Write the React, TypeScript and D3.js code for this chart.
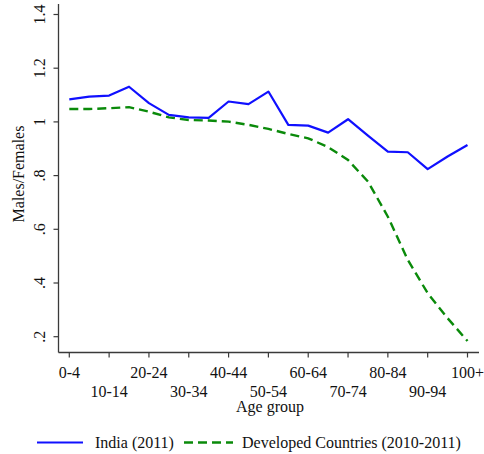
import React, { useEffect, useRef } from "react";
import * as d3 from "d3";

// Age groups (5-year bands)
const ageGroups = [
  "0-4", "5-9", "10-14", "15-19", "20-24", "25-29", "30-34", "35-39",
  "40-44", "45-49", "50-54", "55-59", "60-64", "65-69", "70-74", "75-79",
  "80-84", "85-89", "90-94", "95-99", "100+",
];

// Sex ratio (males per female) by age group
const india2011 = [
  1.084, 1.094, 1.098, 1.131, 1.07, 1.026, 1.017, 1.015, 1.076, 1.066,
  1.113, 0.989, 0.986, 0.96, 1.01, 0.949, 0.889, 0.887, 0.824, 0.871, 0.914,
];
const developed2010 = [
  1.048, 1.048, 1.051, 1.055, 1.038, 1.017, 1.007, 1.005, 1.001, 0.989,
  0.974, 0.955, 0.939, 0.906, 0.858, 0.778, 0.647, 0.486, 0.362, 0.269, 0.184,
];

const yTicks = [0.2, 0.4, 0.6, 0.8, 1.0, 1.2, 1.4];
const yTickLabels = [".2", ".4", ".6", ".8", "1", "1.2", "1.4"];

const seriesNames = ["India (2011)", "Developed Countries (2010-2011)"];

const W = 484;
const H = 454;
const FONT = "'Liberation Serif', 'Times New Roman', serif";
const AXIS = "#3a3a3a";

export default function App() {
  const ref = useRef<SVGSVGElement | null>(null);

  useEffect(() => {
    const svg = d3.select(ref.current);
    svg.selectAll("*").remove();

    const axisX = 58.5;
    const axisY = 352.5;

    const x = d3.scalePoint<string>().domain(ageGroups).range([69.3, 467.5]);
    const y = d3.scaleLinear().domain([0.2, 1.4]).range([336.7, 14.5]);

    const g = svg.append("g");

    // axis lines
    g.append("line")
      .attr("x1", axisX).attr("x2", axisX)
      .attr("y1", 4).attr("y2", axisY)
      .attr("stroke", AXIS).attr("stroke-width", 1.3);
    g.append("line")
      .attr("x1", axisX).attr("x2", 479)
      .attr("y1", axisY).attr("y2", axisY)
      .attr("stroke", AXIS).attr("stroke-width", 1.3);

    // y ticks + rotated labels
    yTicks.forEach((t, i) => {
      const yy = y(t);
      g.append("line")
        .attr("x1", axisX - 5).attr("x2", axisX)
        .attr("y1", yy).attr("y2", yy)
        .attr("stroke", AXIS).attr("stroke-width", 1.2);
      g.append("text")
        .attr("transform", `translate(45,${yy}) rotate(-90)`)
        .attr("text-anchor", "middle")
        .attr("font-family", FONT)
        .attr("font-size", 16)
        .attr("fill", "#111")
        .text(yTickLabels[i]);
    });

    // x ticks every second age group, labels on alternating rows
    ageGroups.forEach((a, i) => {
      if (i % 2 !== 0) return;
      const xx = x(a)!;
      g.append("line")
        .attr("x1", xx).attr("x2", xx)
        .attr("y1", axisY).attr("y2", axisY + 5)
        .attr("stroke", AXIS).attr("stroke-width", 1.2);
      const row = (i / 2) % 2;
      g.append("text")
        .attr("x", xx)
        .attr("y", row === 0 ? 378 : 396.5)
        .attr("text-anchor", "middle")
        .attr("font-family", FONT)
        .attr("font-size", 16)
        .attr("fill", "#111")
        .text(a);
    });

    // axis titles
    g.append("text")
      .attr("x", 270).attr("y", 412)
      .attr("text-anchor", "middle")
      .attr("font-family", FONT).attr("font-size", 16).attr("fill", "#111")
      .text("Age group");
    g.append("text")
      .attr("transform", `translate(24,174) rotate(-90)`)
      .attr("text-anchor", "middle")
      .attr("font-family", FONT).attr("font-size", 16).attr("fill", "#111")
      .text("Males/Females");

    const line = d3.line<number>()
      .x((_, i) => x(ageGroups[i])!)
      .y((d) => y(d));

    g.append("path")
      .datum(developed2010)
      .attr("d", line)
      .attr("fill", "none")
      .attr("stroke", "#0a8a0a")
      .attr("stroke-width", 2.4)
      .attr("stroke-dasharray", "9,5");

    g.append("path")
      .datum(india2011)
      .attr("d", line)
      .attr("fill", "none")
      .attr("stroke", "#1010ff")
      .attr("stroke-width", 2.2)
      .attr("stroke-linejoin", "round");

    // legend
    const ly = 442.5;
    g.append("line")
      .attr("x1", 37).attr("x2", 83).attr("y1", ly).attr("y2", ly)
      .attr("stroke", "#1010ff").attr("stroke-width", 2.2);
    g.append("text")
      .attr("x", 95).attr("y", 448)
      .attr("font-family", FONT).attr("font-size", 16).attr("fill", "#111")
      .text(seriesNames[0]);
    g.append("line")
      .attr("x1", 184).attr("x2", 233).attr("y1", ly).attr("y2", ly)
      .attr("stroke", "#0a8a0a").attr("stroke-width", 2.4)
      .attr("stroke-dasharray", "9,5");
    g.append("text")
      .attr("x", 242).attr("y", 448)
      .attr("font-family", FONT).attr("font-size", 16).attr("fill", "#111")
      .text(seriesNames[1]);
  }, []);

  return (
    <svg
      ref={ref}
      width={W}
      height={H}
      style={{ position: "absolute", left: 0, top: 0, background: "#fff" }}
    />
  );
}
